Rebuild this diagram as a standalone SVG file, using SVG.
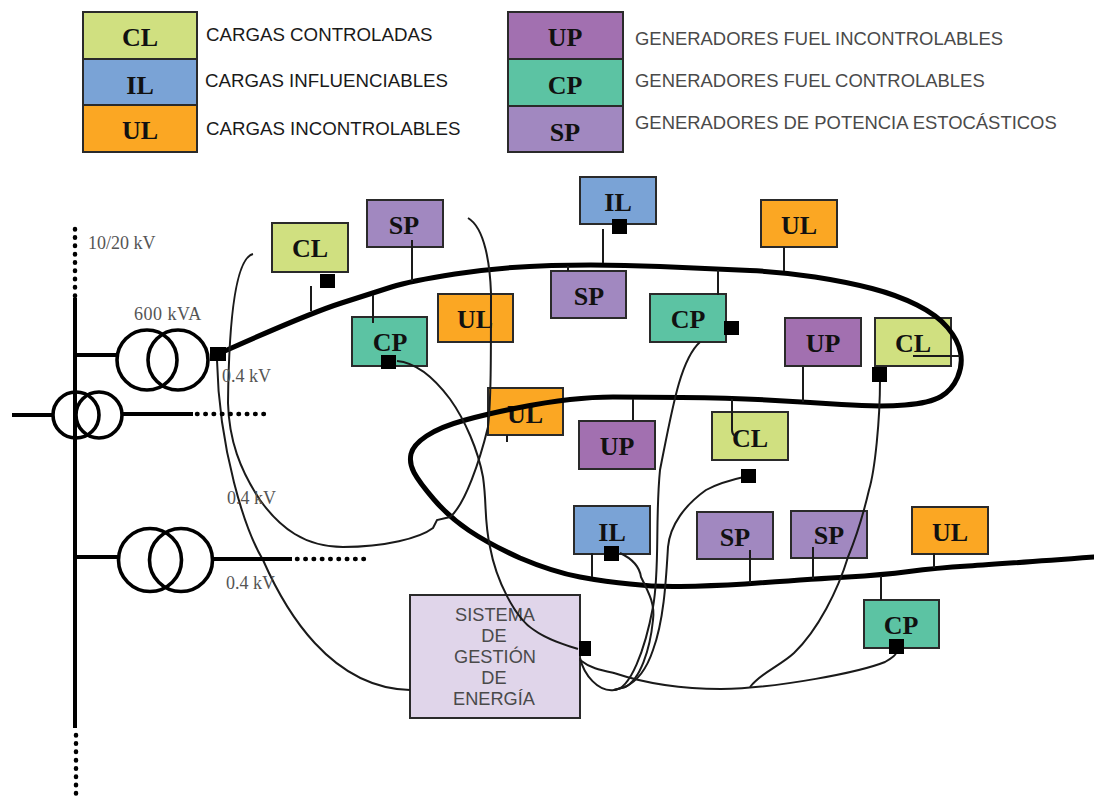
<svg xmlns="http://www.w3.org/2000/svg" width="1094" height="800" viewBox="0 0 1094 800">
<style>
.n{stroke:#2a2a2a;stroke-width:2}
.t{font-family:"Liberation Serif",serif;font-weight:700;font-size:26px;fill:#111;text-anchor:middle}
.lg{font-family:"Liberation Sans",sans-serif;font-size:18.7px;fill:#1a1a1a}
.lg2{font-family:"Liberation Sans",sans-serif;font-size:18.45px;fill:#4a4a4a}
.kv{font-family:"Liberation Serif",serif;font-size:18px;fill:#555}
.sge{font-family:"Liberation Sans",sans-serif;font-size:18.2px;fill:#4a4a4a;text-anchor:middle}
.cl{fill:#d0e080}.il{fill:#7aa3d6}.ul{fill:#fba723}.up{fill:#a270b0}.cp{fill:#5cc3a3}.sp{fill:#a188c0}
.thin{fill:none;stroke:#1a1a1a;stroke-width:2}
.feed{fill:none;stroke:#000;stroke-width:5;stroke-linecap:round;stroke-linejoin:round}
.bus{fill:none;stroke:#000;stroke-width:4}
.dot{fill:none;stroke:#000;stroke-width:4.5;stroke-dasharray:0.5 7.8;stroke-linecap:round}
.tr{fill:none;stroke:#000;stroke-width:3.6}
.sq{fill:#000}
</style>
<rect width="1094" height="800" fill="#fff"/>
<g id="legend">
<g id="lg-cl"><rect class="n cl" x="83" y="12" width="114" height="47"/><text class="t" x="140" y="46">CL</text></g>
<g id="lg-il"><rect class="n il" x="83" y="59" width="114" height="46"/><text class="t" x="140" y="94">IL</text></g>
<g id="lg-ul"><rect class="n ul" x="83" y="105" width="114" height="47"/><text class="t" x="140" y="139">UL</text></g>
<g id="lg-up"><rect class="n up" x="508" y="12" width="115" height="47"/><text class="t" x="565" y="46">UP</text></g>
<g id="lg-cp"><rect class="n cp" x="508" y="59" width="115" height="47"/><text class="t" x="565" y="94">CP</text></g>
<g id="lg-sp"><rect class="n sp" x="508" y="106" width="115" height="46"/><text class="t" x="565" y="141">SP</text></g>
<text class="lg" x="206" y="41">CARGAS CONTROLADAS</text>
<text class="lg" x="205" y="87">CARGAS INFLUENCIABLES</text>
<text class="lg" x="206" y="135">CARGAS INCONTROLABLES</text>
<text class="lg2" x="635" y="45">GENERADORES FUEL INCONTROLABLES</text>
<text class="lg2" x="635" y="87">GENERADORES FUEL CONTROLABLES</text>
<text class="lg2" x="635" y="129">GENERADORES DE POTENCIA ESTOCÁSTICOS</text>
</g>
<g id="nodes">
<g id="n-cl1"><rect class="n cl" x="272" y="223" width="76" height="49"/><text class="t" x="310" y="257">CL</text></g>
<g id="n-sp1"><rect class="n sp" x="367" y="200" width="76" height="47"/><text class="t" x="404" y="234">SP</text></g>
<g id="n-cp1"><rect class="n cp" x="352" y="317" width="75" height="49"/><text class="t" x="390" y="351">CP</text></g>
<g id="n-ul1"><rect class="n ul" x="438" y="294" width="75" height="48"/><text class="t" x="475" y="328">UL</text></g>
<g id="n-il1"><rect class="n il" x="580" y="177" width="76" height="47"/><text class="t" x="618" y="211">IL</text></g>
<g id="n-sp2"><rect class="n sp" x="551" y="271" width="75" height="47"/><text class="t" x="589" y="305">SP</text></g>
<g id="n-cp2"><rect class="n cp" x="650" y="294" width="76" height="48"/><text class="t" x="688" y="328">CP</text></g>
<g id="n-ul2"><rect class="n ul" x="761" y="200" width="76" height="47"/><text class="t" x="799" y="234">UL</text></g>
<g id="n-up1"><rect class="n up" x="785" y="318" width="76" height="48"/><text class="t" x="823" y="352">UP</text></g>
<g id="n-cl2"><rect class="n cl" x="875" y="318" width="76" height="48"/><text class="t" x="913" y="352">CL</text></g>
<g id="n-ul3"><rect class="n ul" x="488" y="388" width="75" height="47"/><text class="t" x="525" y="423">UL</text></g>
<g id="n-up2"><rect class="n up" x="579" y="421" width="76" height="48"/><text class="t" x="617" y="455">UP</text></g>
<g id="n-cl3"><rect class="n cl" x="712" y="412" width="76" height="48"/><text class="t" x="750" y="447">CL</text></g>
<g id="n-il2"><rect class="n il" x="574" y="506" width="76" height="48"/><text class="t" x="612" y="541">IL</text></g>
<g id="n-sp3"><rect class="n sp" x="697" y="512" width="76" height="47"/><text class="t" x="735" y="546">SP</text></g>
<g id="n-sp4"><rect class="n sp" x="791" y="511" width="76" height="47"/><text class="t" x="829" y="544">SP</text></g>
<g id="n-ul4"><rect class="n ul" x="912" y="507" width="76" height="47"/><text class="t" x="950" y="541">UL</text></g>
<g id="n-cp3"><rect class="n cp" x="864" y="600" width="75" height="48"/><text class="t" x="901" y="634">CP</text></g>
<g id="n-sge"><rect x="410" y="595" width="170" height="123" fill="#e0d5ea" stroke="#2a2a2a" stroke-width="2"/>
<text class="sge" x="495" y="621">SISTEMA</text><text class="sge" x="494" y="642">DE</text><text class="sge" x="495" y="663">GESTIÓN</text><text class="sge" x="494" y="684">DE</text><text class="sge" x="494" y="705">ENERGÍA</text></g>
</g>
<g id="connectors">
<path class="feed" d="M218 354L227 350Q310 313 341.500 303Q373 293 391.500 287Q410 281 455 274Q500 267 551.500 265.500Q603 264 660 266.500Q717 269 750 270.500Q783 272 815 277Q847 282 872 288.500Q897 295 917 305Q937 315 947.500 327.500Q958 340 960.500 352.500Q963 365 957.500 377.500Q952 390 941 396.500Q930 403 905 405Q880 407 841.500 404.500Q803 402 766.500 400Q730 398 681.500 397.500Q633 397 613 397Q593 397 570 399.500Q547 402 517 408Q487 414 463.500 420.500Q440 427 426.500 436Q413 445 411 454Q409 463 414 472.500Q419 482 434 499.500Q449 517 469 530.500Q489 544 520 558Q553 572 580 577Q607 582 630 584Q655 587 680 586.500Q710 586 745 584Q813 579 847.500 577Q882 575 909 571.500Q936 568 968 566Q1000 564 1094 557"/>
<g class="thin">
<path d="M311 286V311M412 240V281M373 295V323M603 229V263M568 266V271M718 270V295M784 247V271M803 367V402M633 399V420M732 399V430Q732 434 735 436M507 435V442M592 553V577M750 550V583M813 547V579M934 553V568M881 576V600M913 356H960"/>
<path d="M253 254C237 258 229 310 228 403C229 440 240 470 260 500C280 528 305 547 343 547C385 547 420 538 433 528L437 520L450 517C465 505 480 460 488 427C491 400 491 360 491 293C490 265 485 228 468 218"/>
<path d="M217 360C219 450 245 530 263 560C285 610 330 688 410 690"/>
<path d="M397 361C420 363 438 383 450 399C465 420 478 450 483 477C487 505 484 520 490 547C496 580 515 618 534 630C548 640 565 645 578 649"/>
<path d="M700 342C680 360 672 410 660 470C655 520 660 570 653 607C645 650 630 690 614 690C598 692 584 675 580 658"/>
<path d="M620 553C635 560 640 570 641 577C650 595 655 605 653 620C650 650 640 680 625 687L614 690"/>
<path d="M748 476C730 480 715 485 706 490C685 505 670 525 668 547C666 580 664 620 653 650C648 665 640 680 625 687L614 690"/>
<path d="M580 660C590 668 600 670 614 673C650 685 690 689 721 689C780 688 860 672 885 662C892 658 896 655 896 653"/>
<path d="M880 380C880 420 875 470 869 490C862 520 855 540 848 557C838 590 818 630 794 653C780 666 762 672 750 687"/>
</g>
<rect class="sq" x="210" y="347" width="16" height="14"/>
<rect class="sq" x="320" y="274" width="15" height="14"/>
<rect class="sq" x="381" y="355" width="15" height="14"/>
<rect class="sq" x="612" y="219" width="15" height="15"/>
<rect class="sq" x="724" y="321" width="15" height="14"/>
<rect class="sq" x="872" y="367" width="15" height="15"/>
<rect class="sq" x="741" y="469" width="15" height="14"/>
<rect class="sq" x="604" y="546" width="15" height="15"/>
<rect class="sq" x="579" y="641" width="12" height="15"/>
<rect class="sq" x="889" y="639" width="15" height="15"/>
</g>
<g id="grid">
<path class="bus" d="M75 298V728M75 355H117"/>
<path class="dot" d="M75 229V296M76 735V800"/>
<circle class="tr" cx="147" cy="360" r="30"/><circle class="tr" cx="178" cy="360" r="30"/>
<circle class="tr" cx="76" cy="415" r="23"/><circle class="tr" cx="99" cy="415" r="23"/>
<circle class="tr" cx="150" cy="560" r="31.500"/><circle class="tr" cx="181" cy="560" r="31.500"/>
<path class="bus" d="M12 415H53M122 414H193M75 557H118M214 559H292"/>
<path class="dot" d="M197 414H269M297 559H364"/>
<text class="kv" x="88" y="249">10/20 kV</text>
<text class="kv" x="134" y="320" letter-spacing="0.5">600 kVA</text>
<text class="kv" x="222" y="382">0.4 kV</text>
<text class="kv" x="227" y="504">0.4 kV</text>
<text class="kv" x="226" y="589">0.4 kV</text>
</g>
</svg>
